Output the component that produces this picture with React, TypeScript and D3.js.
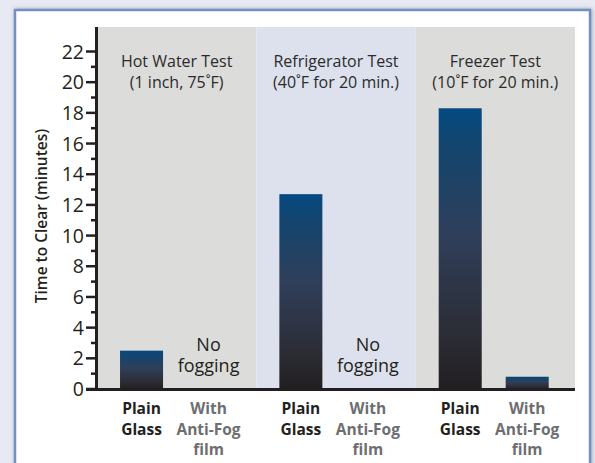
import React from "react";
import * as d3 from "d3";

const tests = ["Hot Water Test", "Refrigerator Test", "Freezer Test"];
const testSubtitles = ["(1 inch, 75˚F)", "(40˚F for 20 min.)", "(10˚F for 20 min.)"];
const conditions = ["Plain Glass", "With Anti-Fog film"];
const conditionLabels = [["Plain", "Glass"], ["With", "Anti-Fog", "film"]];
// minutes to clear; null = no fogging
const plainGlass = [2.5, 12.7, 18.3];
const antiFog: (number | null)[] = [null, null, 0.8];
const yTicks = d3.range(0, 23, 2);
const yMinorTicks = d3.range(1, 22, 2);

const W = 595;
const H = 463;
const FONT = "'Open Sans', 'Noto Sans', sans-serif";

export default function App() {
  const plotLeft = 97;
  const plotRight = 575;
  const plotTop = 27;
  const plotBottom = 389;

  const y = d3.scaleLinear().domain([0, 22]).range([389, 51.5]);
  const xGroup = d3.scaleBand<string>().domain(tests).range([plotLeft, plotRight]).padding(0);
  const xInner = d3
    .scaleBand<string>()
    .domain(conditions)
    .range([0, xGroup.step()])
    .paddingInner(0.358)
    .paddingOuter(0.368)
    .align(0.467);

  const panelFills = ["#dcdcdb", "#dde1ee", "#dcdcdb"];
  const textDark = "#231f20";
  const textGray = "#6d6e71";

  const bars: { test: string; cond: string; v: number }[] = [];
  tests.forEach((t, i) => {
    bars.push({ test: t, cond: conditions[0], v: plainGlass[i] });
    const a = antiFog[i];
    if (a !== null) bars.push({ test: t, cond: conditions[1], v: a });
  });

  return (
    <svg
      width={W}
      height={H}
      style={{ position: "absolute", left: 0, top: 0, fontFamily: FONT }}
    >
      <defs>
        <linearGradient id="barGrad" x1="0" y1="0" x2="0" y2="1">
          <stop offset="0" stopColor="#054a82" />
          <stop offset="0.12" stopColor="#12456f" />
          <stop offset="0.45" stopColor="#2f3f5a" />
          <stop offset="0.8" stopColor="#2c2d36" />
          <stop offset="1" stopColor="#221f21" />
        </linearGradient>
        <filter id="shadow" x="-5%" y="-5%" width="110%" height="110%">
          <feDropShadow dx="1" dy="0" stdDeviation="2.2" floodColor="#556" floodOpacity="0.45" />
        </filter>
      </defs>
      <rect x={0} y={0} width={W} height={H} fill="#e7eaf2" />
      <rect
        x={15}
        y={10}
        width={575}
        height={H + 20}
        fill="#ffffff"
        stroke="#7191c4"
        strokeWidth={2.5}
        filter="url(#shadow)"
      />

      {/* panels */}
      {tests.map((t, i) => (
        <rect
          key={t}
          x={xGroup(t)!}
          y={plotTop}
          width={xGroup.bandwidth()}
          height={plotBottom - plotTop}
          fill={panelFills[i]}
        />
      ))}

      {/* headers */}
      {tests.map((t, i) => {
        const cx = xGroup(t)! + xGroup.bandwidth() / 2;
        return (
          <g key={t} fill="#2b2b2b" fontSize={16} textAnchor="middle">
            <text x={cx} y={66.5}>{t}</text>
            <text x={cx} y={88}>{testSubtitles[i]}</text>
          </g>
        );
      })}

      {/* bars */}
      {bars.map((b) => (
        <rect
          key={b.test + b.cond}
          x={xGroup(b.test)! + xInner(b.cond)!}
          y={y(b.v)}
          width={xInner.bandwidth()}
          height={y(0) - y(b.v)}
          fill="url(#barGrad)"
        />
      ))}

      {/* no fogging labels */}
      {tests.map((t, i) =>
        antiFog[i] === null ? (
          <g key={t} fill={textDark} fontSize={18} textAnchor="middle">
            <text x={xGroup(t)! + xInner(conditions[1])! + xInner.bandwidth() / 2} y={351}>No</text>
            <text x={xGroup(t)! + xInner(conditions[1])! + xInner.bandwidth() / 2} y={371.5}>fogging</text>
          </g>
        ) : null
      )}

      {/* y axis */}
      <line x1={96.5} x2={96.5} y1={plotTop} y2={391} stroke={textDark} strokeWidth={3} />
      {yTicks.map((v) => (
        <g key={v}>
          <line x1={86} x2={96} y1={y(v)} y2={y(v)} stroke={textDark} strokeWidth={2.5} />
          <text
            x={84}
            y={y(v)}
            dy="0.36em"
            textAnchor="end"
            fontSize={19.5}
            fill={textDark}
          >
            {v}
          </text>
        </g>
      ))}
      {yMinorTicks.map((v) => (
        <line key={v} x1={91} x2={96} y1={y(v)} y2={y(v)} stroke={textDark} strokeWidth={2.5} />
      ))}
      <line x1={86} x2={plotRight} y1={389.5} y2={389.5} stroke={textDark} strokeWidth={3} />

      <text
        transform={`translate(41,216) rotate(-90)`}
        textAnchor="middle"
        dominantBaseline="central"
        fontSize={15.5}
        fontWeight={600}
        fill={textDark}
      >
        Time to Clear (minutes)
      </text>

      {/* x labels */}
      {tests.map((t) =>
        conditions.map((c, ci) => {
          const cx = xGroup(t)! + xInner(c)! + xInner.bandwidth() / 2;
          return (
            <g
              key={t + c}
              fontSize={15.5}
              fontWeight={700}
              textAnchor="middle"
              fill={ci === 0 ? textDark : textGray}
            >
              {conditionLabels[ci].map((line, li) => (
                <text key={li} x={cx} y={414 + li * 20.5}>
                  {line}
                </text>
              ))}
            </g>
          );
        })
      )}
    </svg>
  );
}
